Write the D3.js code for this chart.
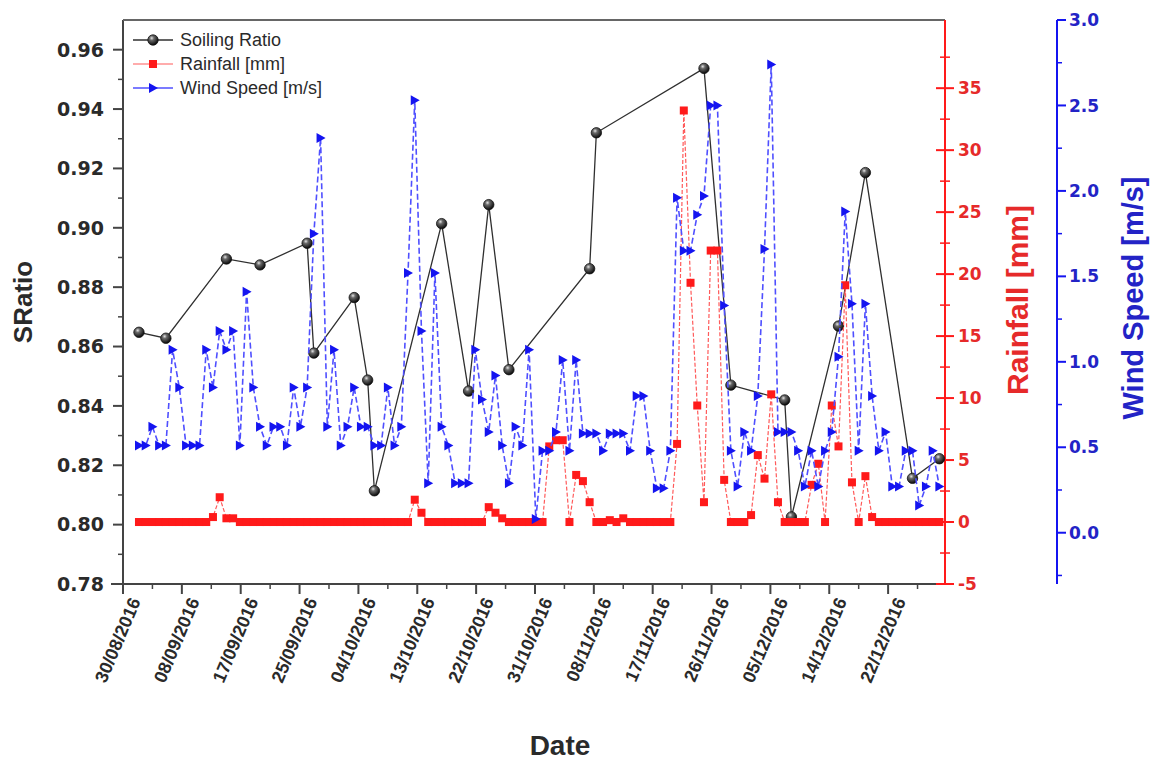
<!DOCTYPE html>
<html>
<head>
<meta charset="utf-8">
<script src="https://cdn.jsdelivr.net/npm/d3@7"></script>
<style>
  body { margin: 0; background: #fff; }
  svg { display: block; }
  text { font-family: "Liberation Sans", Arial, sans-serif; }
  .tick-label { font-family: "DejaVu Sans", Verdana, sans-serif; font-weight: bold; }
</style>
</head>
<body>
<svg id="chart" width="1162" height="762"></svg>
<script>
// ---- data -------------------------------------------------------------
const firstDay = "2016-09-01";          // first daily sample
const axisStart = "2016-08-29T15:00";   // left end of the date axis
const axisEnd = "2016-12-29T20:00";     // right end of the date axis
const tickStepDays = 8.75;              // spacing of the labelled date ticks

const tickLabels = ["30/08/2016", "08/09/2016", "17/09/2016", "25/09/2016",
  "04/10/2016", "13/10/2016", "22/10/2016", "31/10/2016", "08/11/2016",
  "17/11/2016", "26/11/2016", "05/12/2016", "14/12/2016", "22/12/2016"];

// daily wind speed [m/s], one value per day from firstDay
const windSpeed = [
  0.51, 0.51, 0.62, 0.51, 0.51, 1.07, 0.85, 0.51, 0.51, 0.51,
  1.07, 0.85, 1.18, 1.07, 1.18, 0.51, 1.41, 0.85, 0.62, 0.51,
  0.62, 0.62, 0.51, 0.85, 0.62, 0.85, 1.75, 2.31, 0.62, 1.07,
  0.51, 0.62, 0.85, 0.62, 0.62, 0.51, 0.51, 0.85, 0.51, 0.62,
  1.52, 2.53, 1.18, 0.29, 1.52, 0.62, 0.51, 0.29, 0.29, 0.29,
  1.07, 0.78, 0.59, 0.92, 0.51, 0.29, 0.62, 0.51, 1.07, 0.08,
  0.48, 0.48, 0.59, 1.01, 0.48, 1.01, 0.58, 0.58, 0.58, 0.48,
  0.58, 0.58, 0.58, 0.48, 0.80, 0.80, 0.48, 0.26, 0.26, 0.48,
  1.96, 1.65, 1.65, 1.86, 1.97, 2.50, 2.50, 1.33, 0.48, 0.27,
  0.59, 0.48, 0.80, 1.66, 2.74, 0.59, 0.59, 0.59, 0.48, 0.27,
  0.48, 0.27, 0.48, 0.59, 1.03, 1.88, 1.34, 0.48, 1.34, 0.80,
  0.48, 0.59, 0.27, 0.27, 0.48, 0.48, 0.16, 0.27, 0.48, 0.27
];

// daily rainfall [mm], one value per day from firstDay
const rainfall = [
  0, 0, 0, 0, 0, 0, 0, 0, 0, 0,
  0, 0.4, 2.0, 0.3, 0.3, 0, 0, 0, 0, 0,
  0, 0, 0, 0, 0, 0, 0, 0, 0, 0,
  0, 0, 0, 0, 0, 0, 0, 0, 0, 0,
  0, 1.8, 0.75, 0, 0, 0, 0, 0, 0, 0,
  0, 0, 1.2, 0.75, 0.3, 0, 0, 0, 0, 0,
  0, 6.1, 6.6, 6.6, 0, 3.8, 3.3, 1.6, 0, 0,
  0.15, 0, 0.3, 0, 0, 0, 0, 0, 0, 0,
  6.3, 33.2, 19.3, 9.4, 1.6, 21.9, 21.9, 3.4, 0, 0,
  0, 0.56, 5.4, 3.5, 10.3, 1.6, 0, 0, 0, 0,
  3.0, 4.7, 0, 9.4, 6.1, 19.1, 3.2, 0, 3.7, 0.4,
  0, 0, 0, 0, 0, 0, 0, 0, 0, 0
];

// soiling ratio, measured on selected days
const srDates = ["2016-09-01", "2016-09-05", "2016-09-14", "2016-09-19",
  "2016-09-26", "2016-09-27", "2016-10-03", "2016-10-05", "2016-10-06",
  "2016-10-16", "2016-10-20", "2016-10-23", "2016-10-26", "2016-11-07",
  "2016-11-08", "2016-11-24", "2016-11-28", "2016-12-06", "2016-12-07",
  "2016-12-14", "2016-12-18", "2016-12-25", "2016-12-29"];
const srValues = [0.8648, 0.8628, 0.8895, 0.8875, 0.8948, 0.8578, 0.8765,
  0.8487, 0.8114, 0.9014, 0.8450, 0.9078, 0.8522, 0.8862, 0.9320, 0.9537,
  0.8470, 0.8420, 0.8026, 0.8669, 0.9186, 0.8156, 0.8222];

const srTicks = [0.78, 0.80, 0.82, 0.84, 0.86, 0.88, 0.90, 0.92, 0.94, 0.96];
const rainTicks = [-5, 0, 5, 10, 15, 20, 25, 30, 35];
const windTicks = [0.0, 0.5, 1.0, 1.5, 2.0, 2.5, 3.0];

const seriesNames = ["Soiling Ratio", "Rainfall [mm]", "Wind Speed [m/s]"];

// ---- layout -----------------------------------------------------------
const plot = { left: 123, right: 945, top: 20, bottom: 584 };
const windAxisX = 1057;

const colors = {
  axis: "#444", text: "#2a2a2a",
  red: "#ff1a1a", redText: "#e62a2a", redLine: "#ff5a5a",
  blue: "#1414f0", blueText: "#2323c6", blueLine: "#4f4fff",
  sr: "#2f2f2f"
};

const parseDay = d3.timeParse("%Y-%m-%d");
const parseStamp = d3.timeParse("%Y-%m-%dT%H:%M");
const day0 = parseDay(firstDay);
const dates = windSpeed.map((_, i) => d3.timeDay.offset(day0, i));

const x = d3.scaleTime()
  .domain([parseStamp(axisStart), parseStamp(axisEnd)])
  .range([plot.left, plot.right]);
const ySR = d3.scaleLinear().domain([0.78, 0.97]).range([plot.bottom, plot.top]);
const yRain = d3.scaleLinear().domain([-5, 40.5]).range([plot.bottom, plot.top]);
const yWind = d3.scaleLinear().domain([-0.3, 3.0]).range([plot.bottom, plot.top]);

const svg = d3.select("#chart");
const defs = svg.append("defs");

// shaded ball used for the soiling-ratio markers
const grad = defs.append("radialGradient").attr("id", "ball")
  .attr("cx", "38%").attr("cy", "32%").attr("r", "70%");
grad.append("stop").attr("offset", "0%").attr("stop-color", "#e6e6e6");
grad.append("stop").attr("offset", "30%").attr("stop-color", "#6a6a6a");
grad.append("stop").attr("offset", "100%").attr("stop-color", "#050505");

// ---- date axis --------------------------------------------------------
const msDay = 864e5;
const t0 = parseStamp(axisStart).getTime();
const majorDates = tickLabels.map((_, k) => new Date(t0 + k * tickStepDays * msDay));
const minorDates = tickLabels.map((_, k) => new Date(t0 + (k + 0.5) * tickStepDays * msDay));

const xAxis = svg.append("g").attr("transform", `translate(0,${plot.bottom})`);
xAxis.append("line").attr("x1", plot.left - 12).attr("x2", plot.right)
  .attr("stroke", colors.axis).attr("stroke-width", 2);
xAxis.selectAll(".maj").data(majorDates).join("line")
  .attr("x1", d => x(d)).attr("x2", d => x(d)).attr("y1", 0).attr("y2", 10)
  .attr("stroke", colors.axis).attr("stroke-width", 2);
xAxis.selectAll(".min").data(minorDates).join("line")
  .attr("x1", d => x(d)).attr("x2", d => x(d)).attr("y1", 0).attr("y2", 5)
  .attr("stroke", colors.axis).attr("stroke-width", 1.5);
xAxis.selectAll(".lab").data(majorDates).join("text")
  .attr("transform", d => `translate(${x(d) + 18},${17}) rotate(-67)`)
  .attr("text-anchor", "end")
  .attr("font-size", 18).attr("font-weight", "bold").attr("fill", colors.text)
  .text((d, k) => tickLabels[k]);

svg.append("text").attr("x", 560).attr("y", 755).attr("text-anchor", "middle")
  .attr("font-size", 28).attr("font-weight", "bold").attr("fill", colors.text)
  .text("Date");

// ---- soiling-ratio axis (left) ----------------------------------------
const leftAxis = svg.append("g");
leftAxis.append("line").attr("x1", plot.left).attr("x2", plot.left)
  .attr("y1", plot.top).attr("y2", plot.bottom)
  .attr("stroke", colors.axis).attr("stroke-width", 2);
const srMinor = d3.range(0.79, 0.97, 0.02);
leftAxis.selectAll(".min").data(srMinor).join("line")
  .attr("x1", plot.left - 5).attr("x2", plot.left)
  .attr("y1", d => ySR(d)).attr("y2", d => ySR(d))
  .attr("stroke", colors.axis).attr("stroke-width", 1.5);
leftAxis.selectAll(".maj").data(srTicks).join("line")
  .attr("x1", plot.left - 10).attr("x2", plot.left)
  .attr("y1", d => ySR(d)).attr("y2", d => ySR(d))
  .attr("stroke", colors.axis).attr("stroke-width", 2);
leftAxis.selectAll(".lab").data(srTicks).join("text")
  .attr("class", "tick-label")
  .attr("x", plot.left - 19).attr("y", d => ySR(d)).attr("dy", "0.36em")
  .attr("text-anchor", "end").attr("font-size", 19)
  .attr("fill", colors.text).text(d => d3.format(".2f")(d));
svg.append("text").attr("transform", `translate(32,302) rotate(-90)`)
  .attr("text-anchor", "middle").attr("font-size", 26).attr("font-weight", "bold")
  .attr("fill", colors.text).text("SRatio");

// top frame
svg.append("line").attr("x1", plot.left).attr("x2", plot.right)
  .attr("y1", plot.top).attr("y2", plot.top)
  .attr("stroke", "#666").attr("stroke-width", 2);

// ---- rainfall axis (right, on the frame) ------------------------------
const rainAxis = svg.append("g");
rainAxis.append("line").attr("x1", plot.right).attr("x2", plot.right)
  .attr("y1", plot.top).attr("y2", plot.bottom)
  .attr("stroke", colors.red).attr("stroke-width", 2);
const rainMinor = d3.range(-2.5, 40, 5);
rainAxis.selectAll(".min").data(rainMinor).join("line")
  .attr("x1", plot.right - 5).attr("x2", plot.right + 5)
  .attr("y1", d => yRain(d)).attr("y2", d => yRain(d))
  .attr("stroke", colors.red).attr("stroke-width", 1.5);
rainAxis.selectAll(".maj").data(rainTicks).join("line")
  .attr("x1", plot.right - 9).attr("x2", plot.right + 9)
  .attr("y1", d => yRain(d)).attr("y2", d => yRain(d))
  .attr("stroke", colors.red).attr("stroke-width", 2);
rainAxis.selectAll(".lab").data(rainTicks).join("text")
  .attr("class", "tick-label")
  .attr("x", plot.right + 13).attr("y", d => yRain(d)).attr("dy", "0.36em")
  .attr("font-size", 17)
  .attr("fill", colors.redText).text(d => d);
svg.append("text").attr("transform", `translate(1028,300) rotate(-90)`)
  .attr("text-anchor", "middle").attr("font-size", 30).attr("font-weight", "bold")
  .attr("fill", colors.redText).text("Rainfall [mm]");

// ---- wind axis (offset to the right) ----------------------------------
const windAxis = svg.append("g");
windAxis.append("line").attr("x1", windAxisX).attr("x2", windAxisX)
  .attr("y1", plot.top).attr("y2", plot.bottom)
  .attr("stroke", colors.blue).attr("stroke-width", 2);
const windMinor = d3.range(-0.25, 3.0, 0.5);
windAxis.selectAll(".min").data(windMinor).join("line")
  .attr("x1", windAxisX).attr("x2", windAxisX + 5)
  .attr("y1", d => yWind(d)).attr("y2", d => yWind(d))
  .attr("stroke", colors.blue).attr("stroke-width", 1.5);
windAxis.selectAll(".maj").data(windTicks).join("line")
  .attr("x1", windAxisX).attr("x2", windAxisX + 9)
  .attr("y1", d => yWind(d)).attr("y2", d => yWind(d))
  .attr("stroke", colors.blue).attr("stroke-width", 2);
windAxis.selectAll(".lab").data(windTicks).join("text")
  .attr("class", "tick-label")
  .attr("x", windAxisX + 12).attr("y", d => yWind(d)).attr("dy", "0.36em")
  .attr("font-size", 17)
  .attr("fill", colors.blueText).text(d => d3.format(".1f")(d));
svg.append("text").attr("transform", `translate(1143,298) rotate(-90)`)
  .attr("text-anchor", "middle").attr("font-size", 29).attr("font-weight", "bold")
  .attr("fill", colors.blueText).text("Wind Speed [m/s]");

// ---- series -----------------------------------------------------------
const srData = srDates.map((d, i) => ({ date: parseDay(d), v: srValues[i] }));
const rainData = dates.map((d, i) => ({ date: d, v: rainfall[i] }));
const windData = dates.map((d, i) => ({ date: d, v: windSpeed[i] }));

const triPath = "M-4,-5L5,0L-4,5Z";

const gSR = svg.append("g");
gSR.append("path").datum(srData)
  .attr("d", d3.line().x(d => x(d.date)).y(d => ySR(d.v)))
  .attr("fill", "none").attr("stroke", colors.sr).attr("stroke-width", 1.3);
gSR.selectAll("circle").data(srData).join("circle")
  .attr("cx", d => x(d.date)).attr("cy", d => ySR(d.v)).attr("r", 5.2)
  .attr("fill", "url(#ball)").attr("stroke", "#111").attr("stroke-width", 0.8);

const gRain = svg.append("g");
gRain.append("path").datum(rainData)
  .attr("d", d3.line().x(d => x(d.date)).y(d => yRain(d.v)))
  .attr("fill", "none").attr("stroke", colors.redLine).attr("stroke-width", 1.2)
  .attr("stroke-dasharray", "4,2");
gRain.selectAll("rect").data(rainData).join("rect")
  .attr("x", d => x(d.date) - 4).attr("y", d => yRain(d.v) - 4)
  .attr("width", 8).attr("height", 8).attr("fill", colors.red);

const gWind = svg.append("g");
gWind.append("path").datum(windData)
  .attr("d", d3.line().x(d => x(d.date)).y(d => yWind(d.v)))
  .attr("fill", "none").attr("stroke", colors.blueLine).attr("stroke-width", 1.6)
  .attr("stroke-dasharray", "6,3");
gWind.selectAll(".tri").data(windData).join("path")
  .attr("transform", d => `translate(${x(d.date)},${yWind(d.v)})`)
  .attr("d", triPath).attr("fill", colors.blue);

// ---- legend -----------------------------------------------------------
const legend = svg.append("g");
const legendRows = [40, 64, 88];
legendRows.forEach((ly, k) => {
  const g = legend.append("g").attr("transform", `translate(133,${ly})`);
  if (k === 0) {
    g.append("line").attr("x1", 0).attr("x2", 40).attr("stroke", colors.sr).attr("stroke-width", 1.3);
    g.append("circle").attr("cx", 20).attr("r", 5.2).attr("fill", "url(#ball)")
      .attr("stroke", "#111").attr("stroke-width", 0.8);
  } else if (k === 1) {
    g.append("line").attr("x1", 0).attr("x2", 40).attr("stroke", colors.redLine).attr("stroke-width", 1.2);
    g.append("rect").attr("x", 16).attr("y", -4).attr("width", 8).attr("height", 8).attr("fill", colors.red);
  } else {
    g.append("line").attr("x1", 0).attr("x2", 40).attr("stroke", colors.blueLine).attr("stroke-width", 1.6);
    g.append("path").attr("transform", "translate(20,0)").attr("d", triPath).attr("fill", colors.blue);
  }
  g.append("text").attr("x", 47).attr("dy", "0.36em").attr("font-size", 18)
    .attr("fill", colors.text).text(seriesNames[k]);
});
</script>
</body>
</html>
